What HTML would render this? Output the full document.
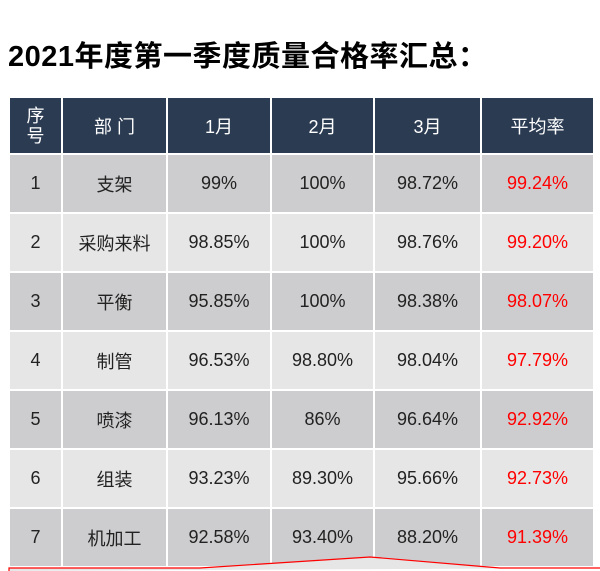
<!DOCTYPE html>
<html><head><meta charset="utf-8"><style>
body{margin:0;width:600px;height:571px;background:#fff;overflow:hidden;position:relative;font-family:"Liberation Sans","Noto Sans CJK SC",sans-serif}
.t{position:absolute;left:8px;top:39px;font-size:29px;font-weight:bold;color:#000;letter-spacing:0.5px;line-height:36px}
table{position:absolute;left:8px;top:96px;border-collapse:collapse;table-layout:fixed}
td{border:2px solid #fff;text-align:center;font-size:18px;color:#222;padding:0;vertical-align:middle}
thead td{background:#2b3b52;color:#fff;height:55px}
tbody td{height:57px}
tr.o td{background:#cdcdcf}
tr.e td{background:#e6e6e6}
td.r{color:#f00}
</style></head><body>
<div class="t">2021年度第一季度质量合格率汇总：</div>
<table>
<colgroup><col style="width:53px"><col style="width:105px"><col style="width:104px"><col style="width:103px"><col style="width:107px"><col style="width:113px"></colgroup>
<thead><tr><td style="line-height:20px">序<br>号</td><td>部 门</td><td>1月</td><td>2月</td><td>3月</td><td>平均率</td></tr></thead>
<tbody>
<tr class="o"><td>1</td><td>支架</td><td>99%</td><td>100%</td><td>98.72%</td><td class="r">99.24%</td></tr>
<tr class="e"><td>2</td><td>采购来料</td><td>98.85%</td><td>100%</td><td>98.76%</td><td class="r">99.20%</td></tr>
<tr class="o"><td>3</td><td>平衡</td><td>95.85%</td><td>100%</td><td>98.38%</td><td class="r">98.07%</td></tr>
<tr class="e"><td>4</td><td>制管</td><td>96.53%</td><td>98.80%</td><td>98.04%</td><td class="r">97.79%</td></tr>
<tr class="o"><td>5</td><td>喷漆</td><td>96.13%</td><td>86%</td><td>96.64%</td><td class="r">92.92%</td></tr>
<tr class="e"><td>6</td><td>组装</td><td>93.23%</td><td>89.30%</td><td>95.66%</td><td class="r">92.73%</td></tr>
<tr class="o"><td>7</td><td>机加工</td><td>92.58%</td><td>93.40%</td><td>88.20%</td><td class="r">91.39%</td></tr>
</tbody></table>
<svg style="position:absolute;left:0;top:0" width="600" height="571"><polyline points="9,571 9,568 200,568 370,557 500,568 600,568" fill="#e6e6e6" stroke="#f00" stroke-width="1.2"/></svg>
</body></html>
